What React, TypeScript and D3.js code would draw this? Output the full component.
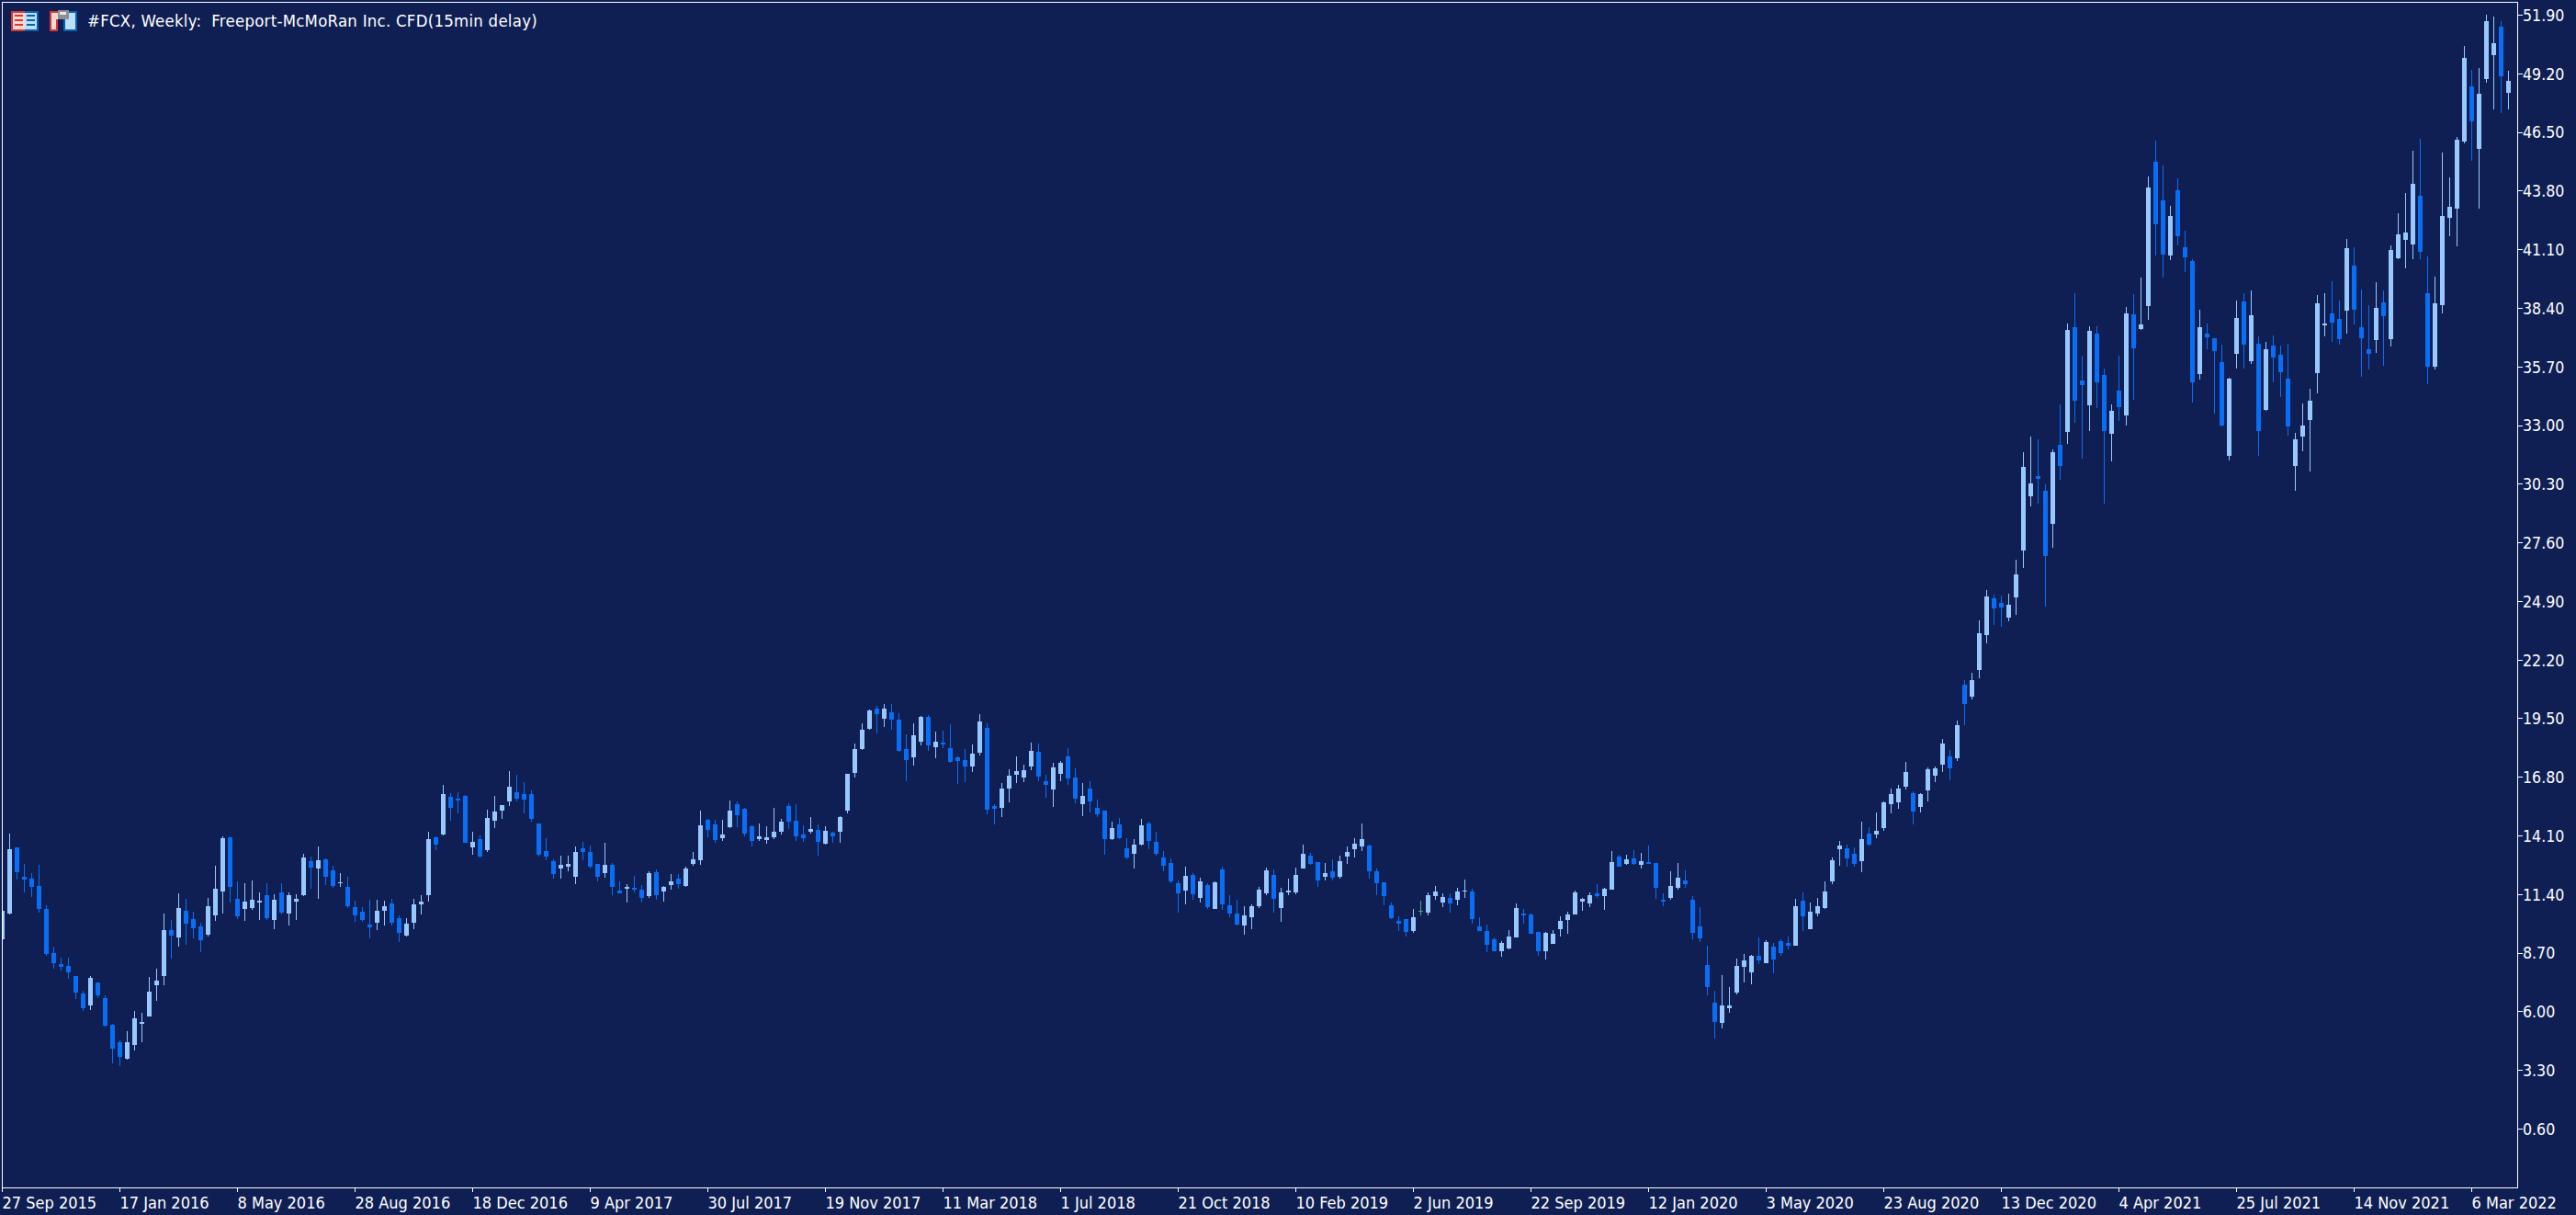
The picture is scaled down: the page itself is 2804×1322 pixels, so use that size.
import { useEffect, useRef } from "react";
import * as d3 from "d3";

const WIDTH = 2804;
const HEIGHT = 1322;

const TITLE = "#FCX, Weekly:  Freeport-McMoRan Inc. CFD(15min delay)";

const priceLabels = ["51.90", "49.20", "46.50", "43.80", "41.10", "38.40", "35.70", "33.00", "30.30", "27.60", "24.90", "22.20", "19.50", "16.80", "14.10", "11.40", "8.70", "6.00", "3.30", "0.60"];

const dateLabels = ["27 Sep 2015", "17 Jan 2016", "8 May 2016", "28 Aug 2016", "18 Dec 2016", "9 Apr 2017", "30 Jul 2017", "19 Nov 2017", "11 Mar 2018", "1 Jul 2018", "21 Oct 2018", "10 Feb 2019", "2 Jun 2019", "22 Sep 2019", "12 Jan 2020", "3 May 2020", "23 Aug 2020", "13 Dec 2020", "4 Apr 2021", "25 Jul 2021", "14 Nov 2021", "6 Mar 2022"];

// one bar per week
const opens = [
  9.34,
  10.52, 13.57, 12.21, 12.13, 11.79, 10.73, 8.70, 8.19, 8.11, 7.64,
  6.84, 6.29, 7.35, 6.63, 5.40, 4.60, 3.84, 4.47, 5.44, 5.78,
  7.22, 7.64, 9.76, 9.42, 10.65, 10.27, 9.93, 9.55, 10.44, 11.54,
  14.03, 11.20, 10.73, 10.78, 11.03, 11.37, 10.22, 11.49, 10.52, 11.07,
  11.37, 12.93, 12.60, 13.02, 12.51, 11.92, 11.75, 10.82, 10.61, 10.01,
  10.10, 10.65, 10.99, 10.31, 9.51, 10.10, 10.94, 11.37, 14.03, 14.16,
  15.90, 15.81, 15.95, 13.57, 13.95, 13.44, 14.80, 15.26, 15.68, 16.11,
  16.02, 16.02, 14.67, 13.40, 12.93, 12.59, 12.68, 12.21, 13.53, 13.36,
  12.81, 12.38, 12.76, 11.58, 11.66, 11.71, 11.62, 11.33, 12.43, 11.54,
  11.83, 12.13, 11.79, 12.81, 12.98, 14.84, 14.63, 13.99, 14.50, 15.56,
  15.35, 14.54, 13.95, 13.91, 14.03, 14.29, 15.47, 14.80, 14.16, 14.29,
  14.37, 13.74, 14.25, 14.29, 15.26, 17.00, 18.10, 19.03, 19.96, 19.49,
  19.79, 19.45, 18.10, 17.72, 18.43, 19.58, 18.18, 18.39, 18.14, 17.72,
  17.59, 17.29, 17.93, 19.07, 15.47, 15.39, 16.28, 16.91, 16.78, 17.29,
  17.97, 16.61, 16.23, 16.95, 17.76, 16.78, 15.56, 16.28, 15.39, 15.26,
  13.95, 14.63, 13.53, 13.27, 13.70, 14.67, 13.82, 13.10, 12.85, 11.92,
  11.58, 12.30, 11.24, 11.83, 10.73, 12.55, 10.90, 10.52, 9.97, 10.35,
  10.86, 11.45, 12.30, 10.78, 11.49, 11.49, 12.59, 13.19, 12.89, 12.21,
  12.47, 12.21, 13.14, 13.48, 13.61, 13.65, 12.47, 11.96, 10.90, 10.18,
  10.27, 9.72, 10.63, 10.56, 11.33, 11.03, 11.24, 11.16, 11.54, 11.54,
  9.93, 9.72, 9.34, 8.79, 8.91, 9.42, 10.52, 10.48, 9.68, 8.79,
  9.12, 9.80, 10.22, 10.48, 11.07, 10.99, 11.45, 11.33, 11.62, 13.15,
  12.81, 13.06, 12.76, 12.89, 12.85, 11.16, 11.24, 11.71, 12.04, 11.16,
  9.93, 8.15, 6.42, 5.49, 6.16, 6.88, 8.07, 7.81, 8.57, 8.24,
  9.00, 9.25, 9.17, 9.04, 11.11, 9.80, 10.52, 10.78, 12.00, 13.48,
  13.53, 13.27, 12.93, 14.20, 14.16, 14.46, 15.56, 15.64, 16.36, 16.06,
  15.43, 16.19, 16.87, 17.38, 17.76, 17.67, 21.06, 20.51, 21.74, 23.34,
  25.04, 24.82, 24.15, 25.08, 27.24, 29.73, 30.66, 29.99, 28.46, 32.10,
  32.70, 37.52, 35.07, 33.92, 37.22, 35.32, 32.61, 34.60, 33.46, 38.11,
  37.44, 38.49, 45.14, 43.36, 40.82, 43.83, 41.20, 40.57, 35.36, 37.22,
  37.01, 35.91, 31.60, 36.29, 38.71, 35.95, 36.76, 33.71, 36.67, 36.25,
  35.15, 31.13, 32.48, 33.25, 35.40, 37.61, 38.16, 37.90, 38.28, 40.36,
  37.52, 36.50, 36.93, 38.66, 36.97, 40.69, 41.54, 41.33, 43.57, 39.09,
  35.70, 38.54, 42.56, 42.98, 46.07, 48.61, 45.73, 48.95, 50.05, 51.36, 48.31,
];

const highs = [
  10.65,
  14.20, 13.57, 12.81, 12.38, 12.76, 10.90, 9.00, 8.49, 8.49, 7.64,
  6.97, 7.64, 7.35, 6.76, 5.44, 4.68, 5.10, 6.04, 5.95, 7.60,
  7.98, 10.52, 10.22, 11.45, 11.20, 10.61, 10.10, 11.24, 12.72, 14.08,
  14.03, 12.00, 11.92, 12.04, 11.49, 11.92, 11.41, 11.92, 11.49, 11.41,
  13.27, 13.15, 13.61, 13.06, 12.72, 12.38, 12.21, 11.11, 10.82, 11.16,
  11.16, 11.11, 11.20, 10.44, 10.31, 11.20, 11.37, 14.29, 14.08, 16.45,
  16.07, 16.11, 15.98, 14.29, 14.12, 15.30, 15.94, 15.51, 17.08, 16.91,
  16.57, 16.19, 14.67, 13.99, 13.02, 13.19, 13.19, 13.61, 13.82, 13.65,
  12.81, 13.78, 12.85, 12.00, 11.88, 12.26, 11.83, 12.47, 12.55, 11.79,
  12.34, 12.34, 12.68, 13.36, 15.26, 14.88, 14.84, 14.84, 15.73, 15.68,
  15.39, 14.58, 14.67, 14.54, 15.39, 14.88, 15.60, 15.56, 14.58, 14.96,
  14.63, 14.54, 14.29, 15.01, 16.95, 18.35, 19.28, 19.92, 20.09, 20.17,
  20.17, 19.75, 18.77, 19.28, 19.62, 19.66, 18.90, 18.94, 19.24, 17.76,
  18.10, 18.31, 19.70, 19.28, 15.56, 16.53, 17.17, 17.76, 17.38, 18.39,
  18.35, 16.91, 17.46, 17.55, 18.14, 17.21, 16.53, 16.61, 15.77, 15.26,
  14.75, 14.92, 13.99, 13.95, 14.88, 14.75, 14.29, 13.40, 13.06, 12.04,
  12.68, 12.38, 12.17, 11.92, 12.00, 12.68, 11.37, 11.16, 10.86, 10.94,
  11.75, 12.64, 12.55, 11.71, 12.13, 12.64, 13.70, 13.31, 12.89, 12.85,
  13.02, 13.19, 13.61, 13.99, 14.67, 13.70, 12.59, 11.96, 11.03, 10.39,
  10.27, 10.73, 11.11, 11.49, 11.79, 11.45, 11.45, 11.71, 12.09, 11.66,
  10.35, 10.01, 9.42, 9.25, 9.76, 10.99, 10.73, 10.52, 9.68, 9.68,
  9.76, 10.39, 10.61, 11.58, 11.24, 11.49, 11.88, 11.71, 13.40, 13.23,
  13.23, 13.44, 13.31, 13.65, 12.85, 11.45, 12.47, 12.85, 12.51, 11.33,
  10.82, 9.04, 6.97, 7.69, 7.14, 8.45, 8.66, 8.62, 9.42, 9.29,
  9.17, 9.34, 9.46, 11.20, 11.49, 11.03, 11.24, 12.00, 13.10, 13.86,
  13.69, 13.57, 14.75, 14.50, 15.18, 15.68, 16.28, 16.45, 17.50, 16.15,
  16.06, 17.25, 17.29, 18.56, 18.05, 19.41, 21.27, 21.61, 24.02, 25.42,
  25.21, 25.16, 25.25, 26.81, 31.77, 32.48, 32.36, 30.28, 31.89, 33.97,
  37.69, 39.09, 36.21, 37.56, 37.56, 35.62, 33.97, 36.21, 38.45, 39.04,
  39.81, 44.46, 46.11, 44.97, 43.11, 44.38, 41.96, 40.65, 38.32, 37.69,
  37.01, 36.72, 35.19, 38.75, 39.09, 39.21, 37.10, 36.84, 37.14, 36.67,
  36.76, 32.65, 34.01, 34.69, 39.00, 39.09, 39.64, 38.75, 41.58, 41.20,
  39.26, 38.54, 39.59, 39.21, 41.29, 42.77, 43.70, 45.65, 46.20, 40.78,
  39.85, 45.56, 44.42, 46.28, 50.47, 49.37, 49.45, 51.91, 51.82, 51.61, 49.33,
];

const lows = [
  9.34,
  10.48, 12.09, 11.49, 11.28, 10.56, 8.57, 7.98, 7.90, 7.52, 6.59,
  6.04, 6.08, 6.63, 5.32, 3.62, 3.50, 3.79, 4.22, 4.60, 5.78,
  6.50, 7.22, 8.45, 9.00, 9.08, 9.38, 8.74, 9.46, 10.18, 10.52,
  11.03, 10.27, 10.18, 10.69, 10.22, 10.22, 9.80, 10.48, 9.97, 10.22,
  11.33, 11.66, 11.20, 11.83, 11.71, 11.75, 10.78, 10.14, 10.14, 9.38,
  9.76, 9.97, 9.97, 9.21, 9.46, 9.80, 10.48, 11.07, 13.44, 14.12,
  14.80, 15.13, 13.78, 13.23, 13.10, 13.36, 14.46, 14.88, 15.47, 15.68,
  15.13, 14.75, 13.14, 12.98, 12.13, 12.13, 12.47, 11.88, 12.98, 12.59,
  12.00, 12.17, 11.37, 11.45, 11.03, 11.49, 11.03, 11.24, 11.16, 11.07,
  11.62, 11.66, 11.75, 12.72, 12.76, 14.03, 13.78, 13.86, 14.46, 14.50,
  14.08, 13.61, 13.86, 13.74, 13.95, 14.16, 14.41, 13.86, 13.82, 14.20,
  13.19, 13.70, 13.78, 13.78, 15.13, 16.78, 18.05, 18.98, 18.82, 19.11,
  18.98, 17.97, 16.61, 17.33, 18.27, 18.01, 17.67, 18.14, 17.46, 16.49,
  16.57, 17.04, 17.80, 15.09, 14.63, 14.96, 15.64, 16.53, 16.57, 17.12,
  16.61, 15.85, 15.43, 16.61, 16.45, 15.60, 15.01, 15.18, 14.96, 13.23,
  13.91, 13.95, 13.02, 12.59, 13.65, 13.48, 13.19, 12.47, 11.92, 10.56,
  10.94, 11.16, 11.03, 10.73, 10.73, 10.69, 10.35, 9.97, 9.55, 9.80,
  10.78, 11.37, 10.56, 10.14, 11.37, 11.41, 12.59, 12.76, 11.75, 12.04,
  12.04, 12.13, 12.81, 13.10, 13.40, 12.13, 11.37, 10.90, 10.27, 9.72,
  9.46, 9.63, 10.44, 10.44, 11.16, 10.82, 10.56, 10.90, 11.24, 10.06,
  9.72, 8.74, 8.79, 8.53, 8.87, 9.42, 10.06, 9.59, 8.57, 8.41,
  9.12, 9.46, 9.59, 10.48, 10.65, 10.82, 11.24, 10.69, 11.62, 12.68,
  12.76, 12.76, 12.60, 12.81, 11.20, 10.86, 11.16, 11.62, 11.71, 9.34,
  9.21, 6.76, 4.77, 5.23, 5.95, 6.80, 7.35, 7.26, 8.19, 8.24,
  7.77, 8.57, 8.87, 9.04, 9.72, 9.80, 10.39, 10.73, 11.88, 12.72,
  12.68, 12.68, 12.43, 13.65, 13.99, 14.33, 15.13, 15.35, 16.23, 14.63,
  15.18, 15.68, 16.57, 17.04, 16.66, 17.55, 19.20, 20.38, 21.35, 22.96,
  23.81, 23.72, 23.98, 24.27, 26.43, 29.27, 29.40, 24.66, 27.36, 30.50,
  32.15, 33.12, 31.47, 32.74, 33.80, 29.40, 31.34, 33.20, 32.99, 34.18,
  37.39, 37.86, 40.82, 39.81, 40.61, 41.29, 40.06, 34.05, 35.11, 36.50,
  33.54, 32.95, 31.38, 35.62, 35.62, 35.83, 31.60, 33.67, 34.98, 34.30,
  32.53, 29.99, 31.81, 30.88, 34.47, 37.10, 36.84, 36.72, 37.22, 37.65,
  35.24, 35.57, 36.34, 35.74, 36.63, 40.65, 40.23, 40.65, 40.65, 34.90,
  35.57, 38.16, 41.71, 41.24, 45.98, 45.18, 42.98, 48.78, 47.55, 47.38, 47.55,
];

const closes = [
  10.65,
  13.48, 12.43, 12.09, 11.75, 10.73, 8.66, 8.24, 8.07, 7.81, 6.88,
  6.16, 7.56, 6.76, 5.36, 4.30, 3.92, 4.60, 5.70, 5.53, 6.92,
  7.43, 9.76, 9.51, 10.78, 10.06, 9.84, 9.29, 10.86, 11.66, 13.99,
  11.75, 10.39, 11.07, 11.16, 11.11, 10.31, 11.16, 10.56, 11.37, 11.20,
  13.10, 12.64, 12.98, 12.21, 11.79, 11.96, 10.86, 10.44, 10.22, 9.89,
  10.65, 10.86, 10.10, 9.63, 10.06, 10.94, 11.07, 13.95, 13.70, 16.02,
  15.39, 15.73, 13.78, 13.82, 13.14, 14.92, 15.22, 15.51, 16.36, 15.81,
  15.77, 14.88, 13.23, 13.14, 12.34, 12.76, 12.81, 13.36, 13.36, 12.68,
  12.21, 12.76, 11.75, 11.45, 11.75, 11.62, 11.24, 12.38, 11.37, 11.75,
  12.00, 11.88, 12.59, 13.02, 14.58, 14.37, 13.91, 14.16, 15.26, 15.05,
  14.20, 13.86, 14.08, 14.03, 14.29, 14.75, 14.75, 14.08, 13.99, 14.41,
  13.82, 14.33, 14.08, 14.96, 16.95, 18.10, 18.98, 19.87, 19.70, 19.96,
  19.45, 18.01, 17.59, 18.73, 19.58, 18.27, 18.43, 18.31, 17.50, 17.55,
  17.29, 17.88, 19.37, 15.30, 15.35, 16.28, 16.87, 17.08, 17.12, 18.01,
  16.83, 16.45, 17.25, 17.46, 16.74, 15.81, 15.94, 15.68, 15.09, 13.95,
  14.46, 13.99, 13.10, 13.70, 14.58, 13.86, 13.27, 12.72, 12.00, 11.45,
  12.26, 11.41, 12.00, 10.82, 11.96, 10.94, 10.52, 10.01, 10.44, 10.86,
  11.62, 12.51, 11.20, 11.49, 11.58, 12.30, 13.27, 12.81, 12.04, 12.38,
  12.17, 12.93, 13.36, 13.74, 13.95, 12.47, 11.92, 11.33, 10.31, 10.06,
  9.68, 10.35, 10.63, 11.37, 11.54, 11.28, 10.99, 11.54, 11.58, 10.27,
  9.72, 9.08, 8.79, 9.17, 9.46, 10.78, 10.44, 9.59, 8.79, 9.63,
  9.59, 10.18, 10.48, 11.49, 11.20, 11.37, 11.33, 11.66, 12.89, 12.68,
  13.02, 12.81, 12.93, 12.81, 11.71, 11.07, 11.79, 12.17, 11.88, 9.63,
  9.38, 7.14, 5.53, 6.29, 6.29, 8.11, 8.36, 8.57, 8.36, 9.21,
  8.41, 8.70, 9.04, 10.86, 10.39, 10.61, 10.86, 11.54, 12.98, 13.65,
  13.06, 12.81, 13.95, 13.69, 14.33, 15.64, 16.02, 16.28, 17.04, 15.22,
  16.02, 17.16, 17.21, 18.35, 17.21, 19.20, 20.17, 21.27, 23.43, 25.12,
  24.57, 24.61, 24.74, 26.14, 31.09, 30.33, 30.54, 26.98, 31.77, 31.13,
  37.39, 34.14, 34.85, 37.35, 34.98, 32.74, 33.67, 33.84, 38.16, 36.55,
  37.65, 43.95, 42.26, 40.86, 42.64, 41.71, 40.74, 34.98, 37.52, 37.06,
  36.42, 32.99, 35.15, 37.94, 36.72, 38.07, 32.74, 36.50, 36.12, 35.45,
  32.95, 32.36, 32.99, 34.14, 38.62, 37.69, 37.73, 36.97, 41.16, 38.32,
  37.01, 36.29, 38.41, 38.03, 41.07, 41.79, 41.88, 44.12, 40.99, 35.70,
  38.62, 42.64, 43.06, 46.15, 49.92, 47.00, 48.27, 51.61, 50.60, 49.07, 48.86,
];

const BG = "#0f1f54";
const UP = "#99c8ff";
const DOWN = "#0a6ef5";
const DOJI = "#4fa878";
const FONT = "'DejaVu Sans Condensed', 'DejaVu Sans', sans-serif";

function Icons() {
  return (
    <g shapeRendering="crispEdges">
      {/* list icon */}
      <rect x={12} y={12} width={15} height={22} fill="#d8373a" />
      <rect x={27} y={12} width={15} height={22} fill="#0a5fa8" />
      <rect x={14} y={14} width={13} height={18} fill="#fcd9cf" />
      <rect x={27} y={14} width={13} height={18} fill="#b8e0fb" />
      {[16, 21, 26].map((y) => (
        <g key={y}>
          <rect x={16} y={y} width={9} height={2} fill="#d8373a" />
          <rect x={29} y={y} width={9} height={2} fill="#0a5fa8" />
        </g>
      ))}
      {/* save icon */}
      <rect x={54} y={12} width={15} height={22} fill="#d8373a" />
      <rect x={69} y={12} width={15} height={22} fill="#0a5fa8" />
      <rect x={56} y={14} width={11} height={18} fill="#fcd9cf" />
      <rect x={71} y={14} width={11} height={18} fill="#b8e0fb" />
      <rect x={63} y={11} width={12} height={10} fill="#8c8f96" />
      <rect x={65} y={13} width={7} height={3} fill="#e8e8ea" />
      <rect x={63} y={21} width={6} height={13} fill={BG} />
      <rect x={69} y={21} width={2} height={13} fill="#0a5fa8" />
      <rect x={61} y={21} width={2} height={13} fill="#d8373a" />
    </g>
  );
}

export default function App() {
  const svgRef = useRef<SVGSVGElement>(null);

  useEffect(() => {
    if (!svgRef.current) return;
    const svg = d3.select(svgRef.current);
    svg.select(".chart").remove();
    const root = svg.append("g").attr("class", "chart");

    const x = d3.scaleLinear().domain([0, opens.length - 1]).range([2.5, 2730.5]);
    const y = d3.scaleLinear().domain([51.9, 0.6]).range([16.2, 1228.2]);

    const defs = root.append("defs");
    defs.append("clipPath").attr("id", "plot")
      .append("rect").attr("x", 3).attr("y", 3).attr("width", 2737).attr("height", 1289);

    const bars = root.append("g")
      .attr("clip-path", "url(#plot)")
      .attr("shape-rendering", "crispEdges")
      .selectAll("g")
      .data(d3.range(opens.length))
      .join("g")
      .attr("fill", (i) => closes[i] > opens[i] ? UP : closes[i] < opens[i] ? DOWN : DOJI);

    // wicks
    bars.append("rect")
      .attr("x", (i) => x(i) - 0.5)
      .attr("width", 1)
      .attr("y", (i) => Math.round(y(highs[i])))
      .attr("height", (i) => Math.max(1, Math.round(y(lows[i])) - Math.round(y(highs[i]))));

    // bodies
    bars.append("rect")
      .attr("x", (i) => x(i) - 2.5)
      .attr("width", 5)
      .attr("y", (i) => Math.round(y(Math.max(opens[i], closes[i]))))
      .attr("height", (i) => Math.max(1, Math.round(y(Math.min(opens[i], closes[i]))) - Math.round(y(Math.max(opens[i], closes[i])))));

    const frame = root.append("g").attr("shape-rendering", "crispEdges").attr("fill", "#fff");
    frame.append("rect").attr("x", 2).attr("y", 2).attr("width", 2739).attr("height", 1);
    frame.append("rect").attr("x", 2).attr("y", 2).attr("width", 1).attr("height", 1291);
    frame.append("rect").attr("x", 2740).attr("y", 2).attr("width", 1).attr("height", 1291);
    frame.append("rect").attr("x", 2).attr("y", 1292).attr("width", 2739).attr("height", 1);

    // price axis
    const yAxis = d3.axisRight(y)
      .tickValues(priceLabels.map(Number))
      .tickFormat((d) => d3.format(".2f")(d as number))
      .tickSize(5)
      .tickPadding(0)
      .offset(0.3);
    const yG = root.append("g").attr("transform", "translate(2741,0)").call(yAxis);
    yG.select(".domain").remove();
    yG.selectAll("line").attr("stroke", "#fff").attr("shape-rendering", "crispEdges");
    yG.selectAll("text")
      .attr("fill", "#fff")
      .attr("font-family", FONT)
      .attr("font-size", 17.6)
      .attr("dy", "0.36em");

    // date axis, a label every 16 bars
    const tickBars = dateLabels.map((_, i) => i * 16);
    const xAxis = d3.axisBottom(x)
      .tickValues(tickBars)
      .tickFormat((_, i) => dateLabels[i])
      .tickSize(4)
      .tickPadding(0)
      .offset(0);
    const xG = root.append("g").attr("transform", "translate(0,1293)").call(xAxis);
    xG.select(".domain").remove();
    xG.selectAll("line").attr("stroke", "#fff").attr("shape-rendering", "crispEdges");
    xG.selectAll("text")
      .attr("fill", "#fff")
      .attr("font-family", FONT)
      .attr("font-size", 18)
      .attr("text-anchor", "start")
      .attr("y", 22)
      .attr("dy", 0);
  }, []);

  return (
    <svg
      ref={svgRef}
      width={WIDTH}
      height={HEIGHT}
      style={{ position: "absolute", left: 0, top: 0, background: BG, display: "block" }}
    >
      <Icons />
      <text x={95} y={29} fill="#fff" fontFamily={FONT} fontSize={18.4} letterSpacing={0.28} xmlSpace="preserve">
        {TITLE}
      </text>
    </svg>
  );
}
